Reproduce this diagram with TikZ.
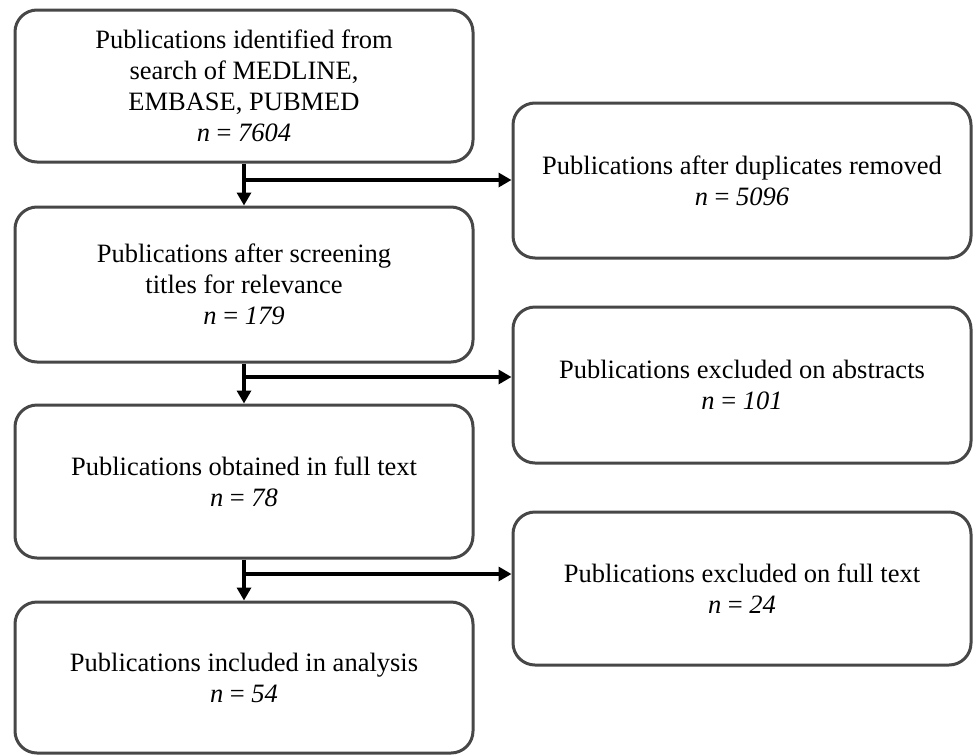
\documentclass[tikz,border=0pt]{standalone}
\usepackage{fontspec}
\setmainfont{Liberation Serif}
\usetikzlibrary{arrows.meta}
\begin{document}
\begin{tikzpicture}[x=1pt,y=-1pt,
  box/.style={draw=black!72, line width=3pt, rounded corners=22pt, rectangle,
    minimum width=458pt, align=center, inner sep=0pt,
    font=\fontsize{26.5pt}{31pt}\selectfont},
  arr/.style={draw=black, line width=4pt,
    -{Triangle[length=13pt,width=14pt]}},
  link/.style={draw=black, line width=4pt}]
\useasboundingbox (0,0) rectangle (973,755);
\fill[white] (0,0) rectangle (973,755);
% left column
\node[box, minimum height=152pt] (L1) at (244,86)
  {Publications identified from\\search of MEDLINE,\\EMBASE, PUBMED\\\textit{n} = \textit{7604}};
\node[box, minimum height=155pt] (L2) at (244,284.5)
  {Publications after screening\\titles for relevance\\\textit{n} = \textit{179}};
\node[box, minimum height=153pt] (L3) at (244,481.5)
  {Publications obtained in full text\\\textit{n} = \textit{78}};
\node[box, minimum height=151pt] (L4) at (244,677.5)
  {Publications included in analysis\\\textit{n} = \textit{54}};
% right column
\node[box, minimum height=155pt] (R1) at (742,180.5)
  {Publications after duplicates removed\\\textit{n} = \textit{5096}};
\node[box, minimum height=156pt] (R2) at (742,385)
  {Publications excluded on abstracts\\\textit{n} = \textit{101}};
\node[box, minimum height=153pt] (R3) at (742,588.5)
  {Publications excluded on full text\\\textit{n} = \textit{24}};
% junctions
\coordinate (j1) at (244,180);
\coordinate (j2) at (244,377);
\coordinate (j3) at (244,574);
% connectors
\draw[arr] (L1.south) -- (L2.north);
\draw[arr] (L2.south) -- (L3.north);
\draw[arr] (L3.south) -- (L4.north);
\draw[arr] (j1) -- (j1 -| R1.west);
\draw[arr] (j2) -- (j2 -| R2.west);
\draw[arr] (j3) -- (j3 -| R3.west);
\end{tikzpicture}
\end{document}
